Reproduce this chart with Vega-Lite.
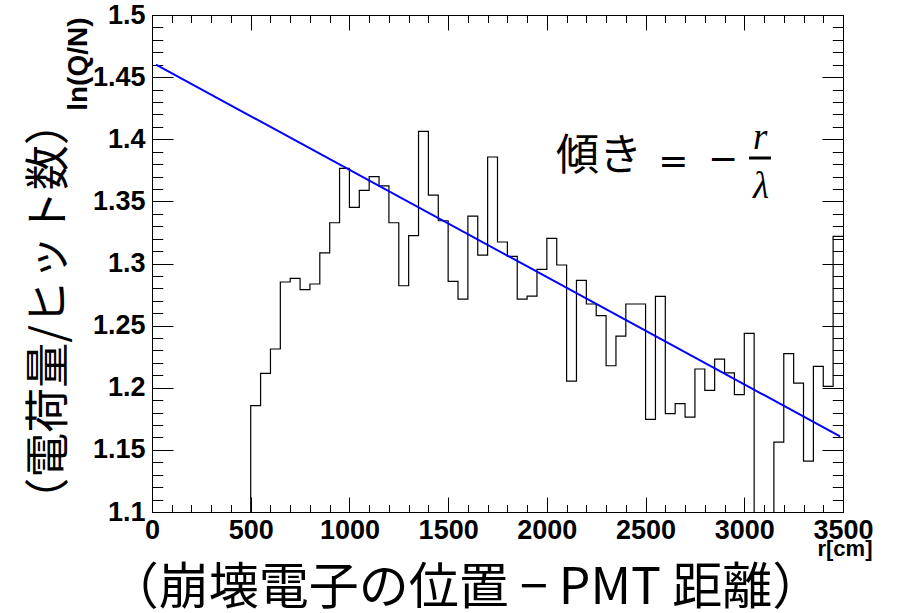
{
  "$schema": "https://vega.github.io/schema/vega-lite/v6.json",
  "width": 691,
  "height": 497,
  "autosize": {"type": "none"},
  "padding": {"left": 152, "top": 15, "right": 61, "bottom": 101},
  "background": "white",
  "config": {
    "view": {"stroke": "#000", "strokeWidth": 1},
    "axis": {
      "grid": false,
      "domain": false,
      "labelFont": "Liberation Sans",
      "labelFontWeight": "bold",
      "labelFontSize": 27,
      "labelColor": "#000",
      "tickColor": "#000",
      "tickWidth": 1,
      "titleColor": "#000",
      "labelFlush": false,
      "labelOverlap": false
    }
  },
  "datasets": {
    "hist": [
      {"lo": 0, "hi": 50, "v": 0}, {"lo": 50, "hi": 100, "v": 0}, {"lo": 100, "hi": 150, "v": 0},
      {"lo": 150, "hi": 200, "v": 0}, {"lo": 200, "hi": 250, "v": 0}, {"lo": 250, "hi": 300, "v": 0},
      {"lo": 300, "hi": 350, "v": 0}, {"lo": 350, "hi": 400, "v": 0}, {"lo": 400, "hi": 450, "v": 0},
      {"lo": 450, "hi": 500, "v": 0},
      {"lo": 500, "hi": 550, "v": 1.1856}, {"lo": 550, "hi": 600, "v": 1.2115},
      {"lo": 600, "hi": 650, "v": 1.2312}, {"lo": 650, "hi": 700, "v": 1.2851},
      {"lo": 700, "hi": 750, "v": 1.288}, {"lo": 750, "hi": 800, "v": 1.2789},
      {"lo": 800, "hi": 850, "v": 1.2835}, {"lo": 850, "hi": 900, "v": 1.3085},
      {"lo": 900, "hi": 950, "v": 1.3328}, {"lo": 950, "hi": 1000, "v": 1.3765},
      {"lo": 1000, "hi": 1050, "v": 1.3452}, {"lo": 1050, "hi": 1100, "v": 1.3588},
      {"lo": 1100, "hi": 1150, "v": 1.3699}, {"lo": 1150, "hi": 1200, "v": 1.3624},
      {"lo": 1200, "hi": 1250, "v": 1.3328}, {"lo": 1250, "hi": 1300, "v": 1.2821},
      {"lo": 1300, "hi": 1350, "v": 1.3224}, {"lo": 1350, "hi": 1400, "v": 1.4063},
      {"lo": 1400, "hi": 1450, "v": 1.3551}, {"lo": 1450, "hi": 1500, "v": 1.3344},
      {"lo": 1500, "hi": 1550, "v": 1.2856}, {"lo": 1550, "hi": 1600, "v": 1.2714},
      {"lo": 1600, "hi": 1650, "v": 1.3382}, {"lo": 1650, "hi": 1700, "v": 1.3068},
      {"lo": 1700, "hi": 1750, "v": 1.3857}, {"lo": 1750, "hi": 1800, "v": 1.3173},
      {"lo": 1800, "hi": 1850, "v": 1.3057}, {"lo": 1850, "hi": 1900, "v": 1.2714},
      {"lo": 1900, "hi": 1950, "v": 1.2738}, {"lo": 1950, "hi": 2000, "v": 1.2953},
      {"lo": 2000, "hi": 2050, "v": 1.3202}, {"lo": 2050, "hi": 2100, "v": 1.2988},
      {"lo": 2100, "hi": 2150, "v": 1.2054}, {"lo": 2150, "hi": 2200, "v": 1.2864},
      {"lo": 2200, "hi": 2250, "v": 1.2674}, {"lo": 2250, "hi": 2300, "v": 1.258},
      {"lo": 2300, "hi": 2350, "v": 1.2177}, {"lo": 2350, "hi": 2400, "v": 1.2416},
      {"lo": 2400, "hi": 2450, "v": 1.2674}, {"lo": 2450, "hi": 2500, "v": 1.2674},
      {"lo": 2500, "hi": 2550, "v": 1.1745}, {"lo": 2550, "hi": 2600, "v": 1.2735},
      {"lo": 2600, "hi": 2650, "v": 1.1791}, {"lo": 2650, "hi": 2700, "v": 1.1872},
      {"lo": 2700, "hi": 2750, "v": 1.1764}, {"lo": 2750, "hi": 2800, "v": 1.2151},
      {"lo": 2800, "hi": 2850, "v": 1.1979}, {"lo": 2850, "hi": 2900, "v": 1.2231},
      {"lo": 2900, "hi": 2950, "v": 1.2119}, {"lo": 2950, "hi": 3000, "v": 1.1944},
      {"lo": 3000, "hi": 3050, "v": 1.2438}, {"lo": 3050, "hi": 3100, "v": 0},
      {"lo": 3100, "hi": 3150, "v": 0}, {"lo": 3150, "hi": 3200, "v": 1.1563},
      {"lo": 3200, "hi": 3250, "v": 1.2274}, {"lo": 3250, "hi": 3300, "v": 1.2038},
      {"lo": 3300, "hi": 3350, "v": 1.141}, {"lo": 3350, "hi": 3400, "v": 1.2172},
      {"lo": 3400, "hi": 3450, "v": 1.2011}, {"lo": 3450, "hi": 3500, "v": 1.3218}
    ],
    "fit": [{"r": 20, "fit": 1.46}, {"r": 3485, "fit": 1.1609}],
    "annot": [
      {"ax": 2264, "ay": 1.386, "t": "傾き"}
    ],
    "ops": [
      {"ax": 2640, "ay": 1.3815, "t": "="},
      {"ax": 2892, "ay": 1.3835, "t": "−"}
    ],
    "frac": [
      {"ax": 3080, "ay": 1.4008, "t": "r"},
      {"ax": 3085, "ay": 1.3614, "t": "λ"}
    ],
    "bar": [{"x1": 3024, "x2": 3135, "y": 1.3849}]
  },
  "layer": [
    {
      "data": {"name": "hist"},
      "transform": [{"fold": ["lo", "hi"], "as": ["edge", "x"]}],
      "mark": {"type": "line", "color": "#000", "strokeWidth": 1.2, "clip": true},
      "encoding": {
        "x": {
          "field": "x", "type": "quantitative",
          "scale": {"domain": [0, 3500], "nice": false, "zero": false},
          "axis": {
            "orient": "bottom", "ticks": false, "format": "d", "labelPadding": 5,
            "values": [0, 500, 1000, 1500, 2000, 2500, 3000, 3500],
            "title": "r[cm]", "titleFont": "Liberation Sans", "titleFontWeight": "bold",
            "titleFontSize": 22, "titleX": 720, "titleY": 43, "titleAlign": "right",
            "titleBaseline": "alphabetic", "titleAnchor": null
          }
        },
        "y": {
          "field": "v", "type": "quantitative",
          "scale": {"domain": [1.1, 1.5], "nice": false, "zero": false},
          "axis": {
            "orient": "left", "ticks": false, "format": "~g", "labelPadding": 7,
            "values": [1.1, 1.15, 1.2, 1.25, 1.3, 1.35, 1.4, 1.45, 1.5],
            "title": "ln(Q/N)", "titleFont": "Liberation Sans", "titleFontWeight": "bold",
            "titleFontSize": 28, "titleAngle": -90, "titleX": -66, "titleY": 2,
            "titleAlign": "right", "titleBaseline": "alphabetic", "titleAnchor": null
          }
        },
        "order": [
          {"field": "lo", "type": "quantitative"},
          {"field": "x", "type": "quantitative"}
        ]
      }
    },
    {
      "data": {"name": "fit"},
      "mark": {"type": "line", "color": "#0000ff", "strokeWidth": 2, "clip": true},
      "encoding": {
        "x": {
          "field": "r", "type": "quantitative",
          "scale": {"domain": [0, 3500], "nice": false, "zero": false},
          "axis": {
            "orient": "bottom", "labels": false, "tickSize": -7.5,
            "values": [0, 100, 200, 300, 400, 500, 600, 700, 800, 900, 1000, 1100, 1200, 1300, 1400, 1500, 1600, 1700, 1800, 1900, 2000, 2100, 2200, 2300, 2400, 2500, 2600, 2700, 2800, 2900, 3000, 3100, 3200, 3300, 3400, 3500],
            "title": "（崩壊電子の位置 − PMT 距離）", "titleFont": "Noto Sans CJK JP",
            "titleFontWeight": "normal", "titleFontSize": 50, "titleX": 313, "titleY": 76,
            "titleAlign": "center", "titleBaseline": "middle", "titleAnchor": null
          }
        },
        "y": {
          "field": "fit", "type": "quantitative",
          "scale": {"domain": [1.1, 1.5], "nice": false, "zero": false},
          "axis": {
            "orient": "left", "labels": false, "tickSize": -10.7,
            "values": [1.1, 1.11, 1.12, 1.13, 1.14, 1.15, 1.16, 1.17, 1.18, 1.19, 1.2, 1.21, 1.22, 1.23, 1.24, 1.25, 1.26, 1.27, 1.28, 1.29, 1.3, 1.31, 1.32, 1.33, 1.34, 1.35, 1.36, 1.37, 1.38, 1.39, 1.4, 1.41, 1.42, 1.43, 1.44, 1.45, 1.46, 1.47, 1.48, 1.49, 1.5],
            "title": "（電荷量/ヒット数）", "titleFont": "Noto Sans CJK JP",
            "titleFontWeight": "normal", "titleFontSize": 45, "titleAngle": -90,
            "titleX": -103, "titleY": 296, "titleAlign": "center",
            "titleBaseline": "middle", "titleAnchor": null
          }
        }
      }
    },
    {
      "data": {"name": "fit"},
      "mark": {"type": "line", "opacity": 0},
      "encoding": {
        "x": {
          "field": "r", "type": "quantitative",
          "scale": {"domain": [0, 3500], "nice": false, "zero": false},
          "axis": {"orient": "bottom", "labels": false, "tickSize": -15, "title": null,
                   "values": [0, 500, 1000, 1500, 2000, 2500, 3000, 3500]}
        },
        "y": {
          "field": "fit", "type": "quantitative",
          "scale": {"domain": [1.1, 1.5], "nice": false, "zero": false},
          "axis": {"orient": "left", "labels": false, "tickSize": -21, "title": null,
                   "values": [1.1, 1.15, 1.2, 1.25, 1.3, 1.35, 1.4, 1.45, 1.5]}
        }
      }
    },
    {
      "data": {"name": "fit"},
      "mark": {"type": "line", "opacity": 0},
      "encoding": {
        "x": {
          "field": "r", "type": "quantitative",
          "scale": {"domain": [0, 3500], "nice": false, "zero": false},
          "axis": {"orient": "top", "labels": false, "tickSize": -15, "title": null,
                   "values": [0, 500, 1000, 1500, 2000, 2500, 3000, 3500]}
        },
        "y": {
          "field": "fit", "type": "quantitative",
          "scale": {"domain": [1.1, 1.5], "nice": false, "zero": false},
          "axis": {"orient": "right", "labels": false, "tickSize": -21, "title": null,
                   "values": [1.1, 1.15, 1.2, 1.25, 1.3, 1.35, 1.4, 1.45, 1.5]}
        }
      }
    },
    {
      "data": {"name": "fit"},
      "mark": {"type": "line", "opacity": 0},
      "encoding": {
        "x": {
          "field": "r", "type": "quantitative",
          "scale": {"domain": [0, 3500], "nice": false, "zero": false},
          "axis": {"orient": "top", "labels": false, "tickSize": -7.5, "title": null,
                   "values": [0, 100, 200, 300, 400, 500, 600, 700, 800, 900, 1000, 1100, 1200, 1300, 1400, 1500, 1600, 1700, 1800, 1900, 2000, 2100, 2200, 2300, 2400, 2500, 2600, 2700, 2800, 2900, 3000, 3100, 3200, 3300, 3400, 3500]}
        },
        "y": {
          "field": "fit", "type": "quantitative",
          "scale": {"domain": [1.1, 1.5], "nice": false, "zero": false},
          "axis": {"orient": "right", "labels": false, "tickSize": -10.7, "title": null,
                   "values": [1.1, 1.11, 1.12, 1.13, 1.14, 1.15, 1.16, 1.17, 1.18, 1.19, 1.2, 1.21, 1.22, 1.23, 1.24, 1.25, 1.26, 1.27, 1.28, 1.29, 1.3, 1.31, 1.32, 1.33, 1.34, 1.35, 1.36, 1.37, 1.38, 1.39, 1.4, 1.41, 1.42, 1.43, 1.44, 1.45, 1.46, 1.47, 1.48, 1.49, 1.5]}
        }
      }
    },
    {
      "data": {"name": "annot"},
      "mark": {"type": "text", "font": "Noto Sans CJK JP", "fontSize": 43, "color": "#000",
               "align": "center", "baseline": "middle"},
      "encoding": {
        "x": {"field": "ax", "type": "quantitative", "scale": {"domain": [0, 3500], "nice": false, "zero": false}, "axis": null},
        "y": {"field": "ay", "type": "quantitative", "scale": {"domain": [1.1, 1.5], "nice": false, "zero": false}, "axis": null},
        "text": {"field": "t"}
      }
    },
    {
      "data": {"name": "ops"},
      "mark": {"type": "text", "font": "DejaVu Sans", "fontSize": 36, "color": "#000",
               "align": "center", "baseline": "middle"},
      "encoding": {
        "x": {"field": "ax", "type": "quantitative", "scale": {"domain": [0, 3500], "nice": false, "zero": false}, "axis": null},
        "y": {"field": "ay", "type": "quantitative", "scale": {"domain": [1.1, 1.5], "nice": false, "zero": false}, "axis": null},
        "text": {"field": "t"}
      }
    },
    {
      "data": {"name": "frac"},
      "mark": {"type": "text", "font": "Liberation Serif", "fontStyle": "italic", "fontSize": 37,
               "color": "#000", "align": "center", "baseline": "middle"},
      "encoding": {
        "x": {"field": "ax", "type": "quantitative", "scale": {"domain": [0, 3500], "nice": false, "zero": false}, "axis": null},
        "y": {"field": "ay", "type": "quantitative", "scale": {"domain": [1.1, 1.5], "nice": false, "zero": false}, "axis": null},
        "text": {"field": "t"}
      }
    },
    {
      "data": {"name": "bar"},
      "mark": {"type": "rule", "color": "#000", "strokeWidth": 3},
      "encoding": {
        "x": {"field": "x1", "type": "quantitative", "scale": {"domain": [0, 3500], "nice": false, "zero": false}, "axis": null},
        "x2": {"field": "x2"},
        "y": {"field": "y", "type": "quantitative", "scale": {"domain": [1.1, 1.5], "nice": false, "zero": false}, "axis": null}
      }
    }
  ],
  "resolve": {"axis": {"x": "independent", "y": "independent"}}
}
